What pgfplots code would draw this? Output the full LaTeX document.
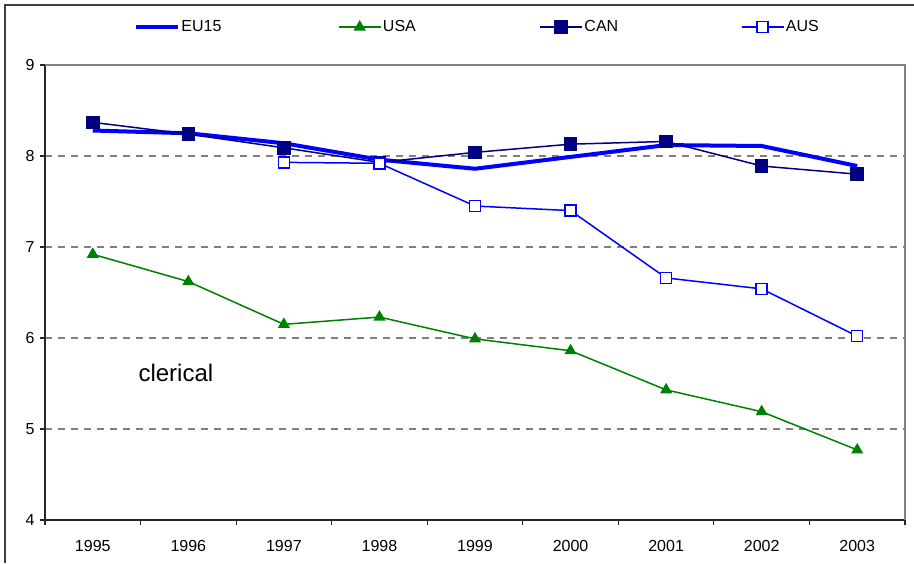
\documentclass[border=0pt]{standalone}
\usepackage{pgfplots}
\pgfplotsset{compat=1.18}
\usepackage{fontspec}
\setmainfont{Liberation Sans}
\definecolor{usagreen}{RGB}{0,128,0}
\definecolor{navyc}{RGB}{0,0,128}
\definecolor{eublue}{RGB}{0,0,255}
\begin{document}
\begin{tikzpicture}[x=1pt,y=1pt]
\path[use as bounding box] (0,0) rectangle (914,563);
\draw[line width=1.5pt, black!75] (5,0) -- (5,558) -- (914,558);
\begin{axis}[at={(45pt,43pt)}, anchor=south west, scale only axis,
  width=860pt, height=455pt,
  xmin=-0.5, xmax=8.5, ymin=4, ymax=9,
  axis lines*=left, axis line style={line width=1.2pt, -, black!85},
  xtick={0,...,8},
  xticklabels={1995,1996,1997,1998,1999,2000,2001,2002,2003},
  minor xtick={-0.5,0.5,...,8.5},
  major x tick style={draw=none},
  ytick={4,...,9},
  major tick length=5pt, minor tick length=5pt, tick align=outside,
  tick style={black!85, line width=1.2pt},
  tick label style={font=\fontsize{16}{19}\selectfont},
  xticklabel style={yshift=-12pt},
  yticklabel style={xshift=-2pt},
  /pgf/number format/assume math mode=true,
  ymajorgrids, grid style={gray, dash pattern=on 7pt off 6pt, line width=1.2pt},
  legend columns=4,
  legend style={at={(rel axis cs:0.5735,1.0835)}, anchor=center, draw=none, fill=none,
    font=\fontsize{16}{19}\selectfont, inner sep=0pt,
    nodes={inner sep=1.5pt}, cells={anchor=west}},
  legend image code/.code={\draw[mark repeat=2,mark phase=2,#1] plot coordinates {(0pt,0pt) (21pt,0pt) (42pt,0pt)};},
  clip=false,
]
\draw[gray, line width=1.2pt] (rel axis cs:0,1) -- (rel axis cs:1,1) -- (rel axis cs:1,0);
\addplot[color=eublue, line width=4pt, mark=none] coordinates {
(0,8.28) (1,8.25) (2,8.14) (3,7.96) (4,7.86) (5,7.99) (6,8.12) (7,8.11) (8,7.89)};
\addlegendentry{\makebox[155pt][l]{EU15}}
\addplot[color=usagreen, line width=1.5pt, mark=triangle*, mark size=5.5pt, mark options={solid}] coordinates {
(0,6.92) (1,6.62) (2,6.15) (3,6.23) (4,5.99) (5,5.86) (6,5.43) (7,5.19) (8,4.77)};
\addlegendentry{\makebox[155pt][l]{USA}}
\addplot[color=navyc, line width=1.5pt, mark=square*, mark size=6pt, mark options={solid}] coordinates {
(0,8.37) (1,8.24) (2,8.09) (3,7.93) (4,8.04) (5,8.13) (6,8.16) (7,7.89) (8,7.80)};
\addlegendentry{\makebox[155pt][l]{CAN}}
\addplot[color=eublue, line width=1.5pt, mark=square*, mark size=5.5pt, mark options={solid, fill=white}] coordinates {
(2,7.93) (3,7.92) (4,7.45) (5,7.40) (6,6.66) (7,6.54) (8,6.02)};
\addlegendentry{\makebox[155pt][l]{AUS}}
\node[font=\fontsize{24}{28}\selectfont] at (axis cs:0.87,5.615) {clerical};
\end{axis}
\end{tikzpicture}
\end{document}
